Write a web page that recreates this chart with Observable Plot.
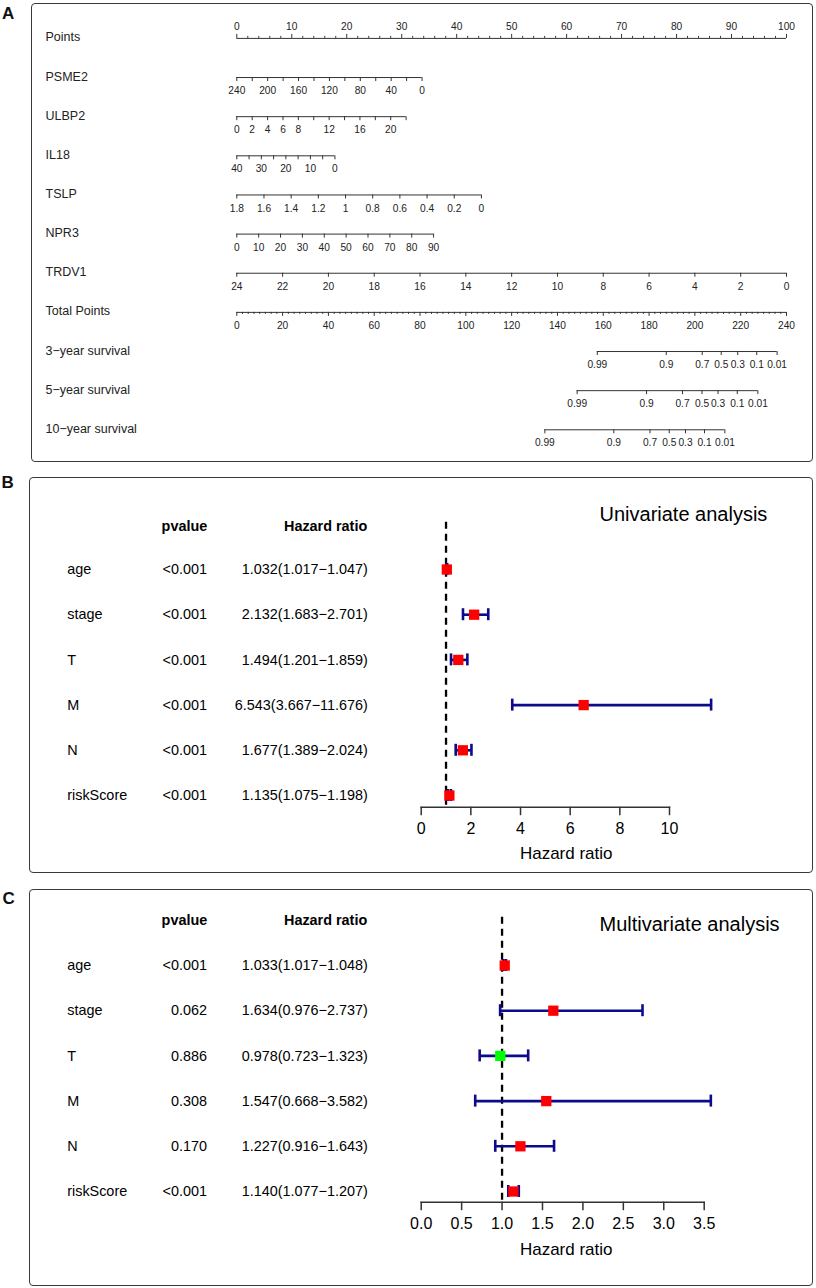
<!DOCTYPE html>
<html><head><meta charset="utf-8">
<script src="https://cdn.jsdelivr.net/npm/d3@7"></script>
<script src="https://cdn.jsdelivr.net/npm/@observablehq/plot@0.6"></script>
<style>
body{margin:0;background:#fff;}
#wrap{position:relative;width:816px;height:1288px;font-family:"Liberation Sans",Arial,sans-serif;overflow:hidden;}
.layer{position:absolute;left:0;top:0;}
.box{position:absolute;border:1.3px solid #3a3a3a;border-radius:4px;box-sizing:border-box;}
.tag{position:absolute;font-weight:bold;font-size:17px;line-height:17px;color:#111;}
</style></head><body><div id="wrap"></div>
<script>
// ---------------- Panel A: nomogram data ----------------
const nomoRows = ["Points","PSME2","ULBP2","IL18","TSLP","NPR3","TRDV1","Total Points","3\u2212year survival","5\u2212year survival","10\u2212year survival"];
const pointsLabels = [0,10,20,30,40,50,60,70,80,90,100];
const psme2Ticks = [240,220,200,180,160,140,120,100,80,60,40,20,0];
const psme2Labels = [240,200,160,120,80,40,0];
const psme2Span = [240, 0, 33.7];      // value at 0 points, value at end, points at end
const ulbp2Ticks = [0,2,4,6,8,10,12,14,16,18,20,22];
const ulbp2Labels = [0,2,4,6,8,12,16,20];
const ulbp2Span = [0, 22, 30.8];
const il18Ticks = [40,35,30,25,20,15,10,5,0];
const il18Labels = [40,30,20,10,0];
const il18Span = [40, 0, 17.85];
const tslpTicks = [1.8,1.6,1.4,1.2,1,0.8,0.6,0.4,0.2,0];
const tslpLabels = [1.8,1.6,1.4,1.2,1,0.8,0.6,0.4,0.2,0];
const tslpSpan = [1.8, 0, 44.5];
const npr3Ticks = [0,10,20,30,40,50,60,70,80,90];
const npr3Labels = [0,10,20,30,40,50,60,70,80,90];
const npr3Span = [0, 90, 35.8];
const trdv1Ticks = [24,22,20,18,16,14,12,10,8,6,4,2,0];
const trdv1Labels = [24,22,20,18,16,14,12,10,8,6,4,2,0];
const trdv1Span = [24, 0, 100];
const totalLabels = [0,20,40,60,80,100,120,140,160,180,200,220,240];
const survLabels = ["0.99","0.9","0.7","0.5","0.3","0.1","0.01"];
const surv3yTP = [157.4,187.5,203.2,211.5,218.7,227.0,235.9];
const surv5yTP = [148.6,178.9,194.6,203.1,210.1,218.5,227.5];
const surv10yTP = [134.5,164.6,180.4,188.8,195.9,204.2,213.1];

// ---------------- Panel B: univariate ----------------
const uniVars = ["age","stage","T","M","N","riskScore"];
const uniP = ["<0.001","<0.001","<0.001","<0.001","<0.001","<0.001"];
const uniHR = [1.032,2.132,1.494,6.543,1.677,1.135];
const uniLow = [1.017,1.683,1.201,3.667,1.389,1.075];
const uniHigh = [1.047,2.701,1.859,11.676,2.024,1.198];
const uniTicks = [0,2,4,6,8,10];

// ---------------- Panel C: multivariate ----------------
const multiVars = ["age","stage","T","M","N","riskScore"];
const multiP = ["<0.001","0.062","0.886","0.308","0.170","<0.001"];
const multiHR = [1.033,1.634,0.978,1.547,1.227,1.140];
const multiLow = [1.017,0.976,0.723,0.668,0.916,1.077];
const multiHigh = [1.048,2.737,1.323,3.582,1.643,1.207];
const multiTicks = [0,0.5,1,1.5,2,2.5,3,3.5];

const FONT = '"Liberation Sans", Arial, Helvetica, sans-serif';
const wrap = document.getElementById("wrap");

// ---------- build nomogram ----------
const lines=[], tDown=[], tDownMinor=[], tUp=[], tUpMinor=[], labBelow=[], labAbove=[];
lines.push({r:0,a:0,b:100});
d3.range(0,101,2).forEach(v => { if (v % 10) tUpMinor.push({r:0,p:v}); });
pointsLabels.forEach(v => { tUp.push({r:0,p:v}); labAbove.push({r:0,p:v,t:String(v)}); });
const predictors = [
  ["PSME2",psme2Ticks,psme2Labels,psme2Span],
  ["ULBP2",ulbp2Ticks,ulbp2Labels,ulbp2Span],
  ["IL18",il18Ticks,il18Labels,il18Span],
  ["TSLP",tslpTicks,tslpLabels,tslpSpan],
  ["NPR3",npr3Ticks,npr3Labels,npr3Span],
  ["TRDV1",trdv1Ticks,trdv1Labels,trdv1Span]
];
for (const [name,ticks,labels,[v0,v1,pEnd]] of predictors) {
  const r = nomoRows.indexOf(name);
  const f = v => (v - v0) / (v1 - v0) * pEnd;
  const ps = ticks.map(f);
  lines.push({r, a:d3.min(ps), b:d3.max(ps)});
  ticks.forEach(v => tDown.push({r, p:f(v)}));
  labels.forEach(v => labBelow.push({r, p:f(v), t:String(v)}));
}
const tpMax = totalLabels[totalLabels.length-1];
const tp = v => v / tpMax * 100;
{
  const r = nomoRows.indexOf("Total Points");
  lines.push({r, a:0, b:100});
  d3.range(0, tpMax + 0.01, 2.5).forEach(v => { if (v % 20) tDownMinor.push({r, p:tp(v)}); });
  totalLabels.forEach(v => { tDown.push({r, p:tp(v)}); labBelow.push({r, p:tp(v), t:String(v)}); });
}
[[8,surv3yTP],[9,surv5yTP],[10,surv10yTP]].forEach(([r,arr]) => {
  lines.push({r, a:tp(arr[0]), b:tp(arr[arr.length-1])});
  arr.forEach((v,i) => { tDown.push({r, p:tp(v)}); labBelow.push({r, p:tp(v), t:survLabels[i]}); });
});

const nomo = Plot.plot({
  width:816, height:470, marginLeft:0, marginRight:0, marginTop:0, marginBottom:0,
  x:{domain:[0,100], range:[236.3,786], axis:null},
  y:{domain:[0,10], range:[37.9,429.3], axis:null},
  style:{fontFamily:FONT, background:"transparent", overflow:"visible", color:"#222"},
  marks:[
    Plot.ruleY(lines,{y:"r", x1:"a", x2:"b", stroke:"#333", strokeWidth:1}),
    Plot.ruleX(tDown,{x:"p", y1:"r", y2:"r", insetBottom:-4, stroke:"#333", strokeWidth:1}),
    Plot.ruleX(tDownMinor,{x:"p", y1:"r", y2:"r", insetBottom:-2, stroke:"#333", strokeWidth:1}),
    Plot.ruleX(tUp,{x:"p", y1:"r", y2:"r", insetTop:-4, stroke:"#333", strokeWidth:1}),
    Plot.ruleX(tUpMinor,{x:"p", y1:"r", y2:"r", insetTop:-2, stroke:"#333", strokeWidth:1}),
    Plot.text(labBelow,{x:"p", y:"r", text:"t", dy:13.3, fontSize:10.2, fill:"#222"}),
    Plot.text(labAbove,{x:"p", y:"r", text:"t", dy:-12, fontSize:10.2, fill:"#222"}),
    Plot.text(nomoRows,{y:(d,i)=>i, text:d=>d, frameAnchor:"left", dx:45, textAnchor:"start", fontSize:12.5, dy:-1, fill:"#222"})
  ]
});
nomo.classList.add("layer");
nomo.style.top = "0px";
wrap.appendChild(nomo);

// ---------- forest plots ----------
function forest(o) {
  const rows = o.vars.map((v,i) => ({i, v, p:o.p[i], hr:o.hr[i], lo:o.lo[i], hi:o.hi[i],
    txt:`${o.hr[i].toFixed(3)}(${o.lo[i].toFixed(3)}\u2212${o.hi[i].toFixed(3)})`}));
  const H = 1288;
  const xMax = o.ticks[o.ticks.length-1];
  const pl = Plot.plot({
    width:816, height:H,
    marginLeft:420.7, marginRight:816 - o.xRight, marginTop:o.dashTop, marginBottom:H - o.axisY,
    x:{domain:[0,xMax]},
    y:{domain:[0,5], range:[o.row0, o.row0 + 5*45.2], axis:null},
    style:{fontFamily:FONT, background:"transparent", overflow:"visible", color:"#000"},
    marks:[
      Plot.ruleX([1],{stroke:"#000", strokeWidth:2.3, strokeDasharray:"7,5"}),
      Plot.ruleY(rows,{y:"i", x1:"lo", x2:"hi", stroke:"#0b0b8c", strokeWidth:2.6}),
      Plot.ruleX(rows,{x:"lo", y1:"i", y2:"i", insetTop:-6, insetBottom:-6, stroke:"#0b0b8c", strokeWidth:2.6}),
      Plot.ruleX(rows,{x:"hi", y1:"i", y2:"i", insetTop:-6, insetBottom:-6, stroke:"#0b0b8c", strokeWidth:2.6}),
      Plot.dot(rows,{x:"hr", y:"i", symbol:"square", r:5.8, fill:d => d.hr < 1 ? "#00ff00" : "#ff0000", stroke:"none"}),
      Plot.frame({anchor:"bottom", stroke:"#333", strokeWidth:1.5}),
      Plot.axisX({ticks:o.ticks, tickFormat:o.fmt, tickSize:8.5, tickPadding:6.5, fontSize:16, label:null, stroke:"#333", strokeWidth:1.5, fill:"#000"}),
      // table
      Plot.text(rows,{y:"i", text:"v", frameAnchor:"left", dx:66.7-420.7, textAnchor:"start", fontSize:14.4}),
      Plot.text(rows,{y:"i", text:"p", frameAnchor:"left", dx:206.5-420.7, textAnchor:"end", fontSize:14.4}),
      Plot.text(rows,{y:"i", text:"txt", frameAnchor:"left", dx:367.3-420.7, textAnchor:"end", fontSize:14.4}),
      Plot.text(["pvalue"],{y:-1, text:d=>d, frameAnchor:"left", dx:206.7-420.7, dy:o.headDy, textAnchor:"end", fontSize:14.4, fontWeight:"bold"}),
      Plot.text(["Hazard ratio"],{y:-1, text:d=>d, frameAnchor:"left", dx:366.7-420.7, dy:o.headDy, textAnchor:"end", fontSize:14.4, fontWeight:"bold"}),
      Plot.text([o.title],{text:d=>d, frameAnchor:"top-left", dx:599-420.7, dy:o.titleDy, textAnchor:"start", fontSize:20}),
      Plot.text(["Hazard ratio"],{text:d=>d, frameAnchor:"bottom-left", dx:565.7-420.7, dy:o.labDy, textAnchor:"middle", fontSize:17})
    ]
  });
  pl.classList.add("layer");
  wrap.appendChild(pl);
}
forest({vars:uniVars, p:uniP, hr:uniHR, lo:uniLow, hi:uniHigh, ticks:uniTicks, fmt:d3.format("d"),
  xRight:669, dashTop:521.7, axisY:806.7, row0:569, headDy:1.8, title:"Univariate analysis", titleDy:-15.7, labDy:51.6});
forest({vars:multiVars, p:multiP, hr:multiHR, lo:multiLow, hi:multiHigh, ticks:multiTicks, fmt:d3.format(".1f"),
  xRight:703.7, dashTop:916.7, axisY:1201.7, row0:965, headDy:0.2, title:"Multivariate analysis", titleDy:0, labDy:52.6});

// ---------- frames and panel tags ----------
[[31,3.3,812.7,461.7],[29.3,476.7,813.3,873.3],[29.3,889,813.3,1286]].forEach(([l,t,r,b]) => {
  const d = document.createElement("div");
  d.className = "box";
  Object.assign(d.style,{left:l+"px", top:t+"px", width:(r-l)+"px", height:(b-t)+"px"});
  wrap.insertBefore(d, wrap.firstChild);
});
[["A",2,4.5],["B",1.5,474],["C",2.5,889.5]].forEach(([s,x,y]) => {
  const d = document.createElement("div");
  d.className = "tag"; d.textContent = s;
  Object.assign(d.style,{left:x+"px", top:y+"px"});
  wrap.appendChild(d);
});
</script></body></html>
